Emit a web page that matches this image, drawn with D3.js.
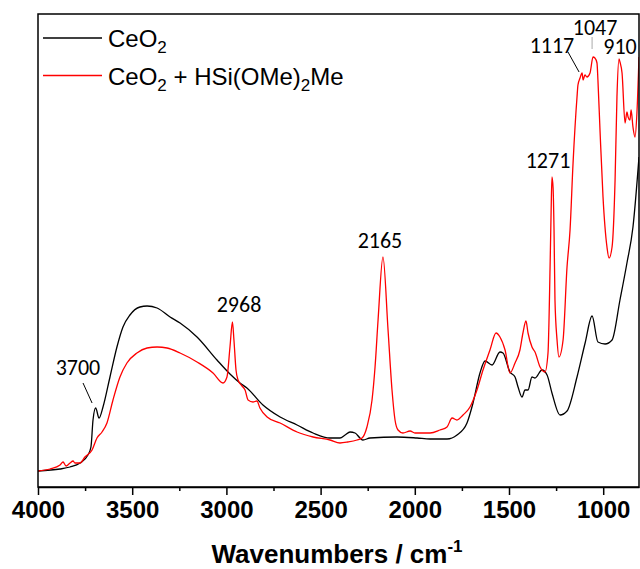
<!DOCTYPE html>
<html>
<head>
<meta charset="utf-8">
<script src="https://d3js.org/d3.v7.min.js"></script>
<style>
  body { margin: 0; background: #fff; }
  svg { display: block; }
</style>
</head>
<body>
<svg id="chart"></svg>
<script>
// FTIR spectra, values (absorbance, a.u.)
const width = 640;
const height = 569;

const ceo2Wn = [4000, 3883, 3830, 3777, 3735, 3719, 3708, 3694, 3676, 3655, 3618, 3581, 3549, 3512,
  3459, 3421, 3368, 3299, 3246, 3156, 3050, 2981, 2928, 2891, 2806, 2715, 2625, 2540, 2450, 2397,
  2370, 2344, 2317, 2291, 2275, 2238, 2094, 1988, 1919, 1829, 1776, 1723, 1691, 1654, 1627, 1590,
  1548, 1532, 1495, 1468, 1452, 1431, 1415, 1399, 1378, 1362, 1325, 1298, 1272, 1229, 1192, 1139,
  1096, 1059, 1028, 990, 953, 911, 874, 842, 810];
const ceo2Abs = [0.16, 0.18, 0.20, 0.24, 0.32, 0.40, 0.67, 0.79, 0.69, 0.80, 1.10, 1.40, 1.60, 1.72,
  1.80, 1.81, 1.79, 1.70, 1.64, 1.50, 1.27, 1.13, 1.04, 0.99, 0.82, 0.70, 0.62, 0.54, 0.49, 0.49,
  0.52, 0.55, 0.54, 0.49, 0.47, 0.49, 0.50, 0.49, 0.48, 0.48, 0.52, 0.64, 0.84, 1.14, 1.26, 1.22,
  1.35, 1.34, 1.15, 1.10, 1.00, 0.90, 0.97, 0.97, 1.10, 1.09, 1.17, 1.12, 0.94, 0.72, 0.76, 1.10,
  1.44, 1.71, 1.45, 1.43, 1.47, 1.87, 2.24, 2.60, 3.30];

const silaneWn = [4000, 3936, 3883, 3867, 3851, 3830, 3814, 3804, 3777, 3751, 3713, 3687, 3660, 3634,
  3602, 3565, 3528, 3475, 3421, 3368, 3315, 3246, 3156, 3071, 3018, 2997, 2981, 2968, 2960, 2949,
  2938, 2917, 2901, 2885, 2859, 2838, 2822, 2784, 2715, 2625, 2540, 2450, 2397, 2355, 2307, 2280,
  2254, 2227, 2211, 2195, 2169, 2142, 2121, 2105, 2089, 2063, 2025, 1999, 1962, 1919, 1866, 1829,
  1802, 1776, 1744, 1707, 1670, 1638, 1601, 1569, 1548, 1521, 1495, 1468, 1442, 1426, 1410, 1399,
  1378, 1362, 1335, 1309, 1293, 1282, 1277, 1272, 1266, 1261, 1256, 1245, 1235, 1213, 1192, 1176,
  1160, 1139, 1134, 1123, 1112, 1107, 1097, 1086, 1070, 1054, 1044, 1033, 1028, 1017, 1001, 980,
  969, 953, 937, 927, 916, 911, 900, 884, 874, 868, 858, 852, 842, 831, 821, 810];
const silaneAbs = [0.16, 0.18, 0.22, 0.25, 0.21, 0.24, 0.26, 0.24, 0.24, 0.30, 0.37, 0.49, 0.55, 0.64,
  0.87, 1.10, 1.24, 1.34, 1.39, 1.40, 1.39, 1.34, 1.25, 1.14, 1.04, 1.10, 1.40, 1.65, 1.47, 1.17,
  1.07, 1.01, 0.97, 0.87, 0.85, 0.86, 0.79, 0.70, 0.64, 0.55, 0.50, 0.47, 0.44, 0.45, 0.47, 0.49,
  0.60, 0.87, 1.20, 1.67, 2.30, 1.57, 0.97, 0.67, 0.57, 0.54, 0.56, 0.54, 0.54, 0.54, 0.57, 0.60,
  0.69, 0.67, 0.72, 0.80, 0.97, 1.17, 1.37, 1.54, 1.50, 1.37, 1.14, 1.24, 1.37, 1.54, 1.66, 1.54,
  1.40, 1.35, 1.20, 1.15, 1.34, 2.20, 2.70, 3.10, 2.99, 2.57, 1.87, 1.47, 1.30, 1.47, 2.20, 2.57,
  3.24, 3.90, 4.02, 4.09, 4.14, 4.07, 4.12, 4.10, 4.14, 4.30, 4.29, 4.24, 4.07, 3.57, 2.90, 2.40,
  2.29, 2.40, 3.07, 3.90, 4.28, 4.25, 4.14, 3.64, 3.75, 3.70, 3.67, 3.77, 3.60, 3.50, 3.74, 4.30];

// legend names, split into [text, subscript] pieces
const seriesNames = [
  [["CeO", "2"]],
  [["CeO", "2"], [" + HSi(OMe)", "2"], ["Me", ""]]
];
const seriesColors = ["#000000", "#ff0000"];

const majorTicks = [4000, 3500, 3000, 2500, 2000, 1500, 1000];
const minorTicks = [3750, 3250, 2750, 2250, 1750, 1250];

// peak labels: text, wavenumber of text centre, absorbance of baseline
const peakLabels = [
  { text: "3700", wn: 3788, at: 1.12 },
  { text: "2968", wn: 2933, at: 1.75 },
  { text: "2165", wn: 2185, at: 2.39 },
  { text: "1271", wn: 1293, at: 3.19 },
  { text: "1117", wn: 1272, at: 4.34 },
  { text: "1047", wn: 1043, at: 4.52 },
  { text: "910", wn: 911, at: 4.33 }
];
// leader lines [wn1, a1, wn2, a2]
const leaders = [
  [3761, 1.04, 3713, 0.84, "#000"],
  [1187, 4.35, 1128, 4.15, "#000"],
  [1059, 4.50, 1059, 4.38, "#aaa"]
];

const margin = { top: 14, right: 1, bottom: 82, left: 38 };
const plotW = width - margin.left - margin.right;
const plotH = height - margin.top - margin.bottom;

const svg = d3.select('#chart')
  .attr('width', width)
  .attr('height', height);

const x = d3.scaleLinear().domain([4000, 810]).range([margin.left, margin.left + plotW]);
const y = d3.scaleLinear().domain([0, 4.73]).range([margin.top + plotH, margin.top]);

svg.append('defs').append('clipPath').attr('id', 'clip')
  .append('rect')
  .attr('x', margin.left).attr('y', margin.top)
  .attr('width', plotW).attr('height', plotH);

const line = d3.line()
  .x(d => x(d[0]))
  .y(d => y(d[1]))
  .curve(d3.curveMonotoneX);

const series = [
  d3.zip(ceo2Wn, ceo2Abs),
  d3.zip(silaneWn, silaneAbs)
];

const plot = svg.append('g').attr('clip-path', 'url(#clip)');
series.forEach((pts, i) => {
  plot.append('path')
    .datum(pts)
    .attr('d', line)
    .attr('fill', 'none')
    .attr('stroke', seriesColors[i])
    .attr('stroke-width', 1.3)
    .attr('stroke-linejoin', 'round');
});

// frame
svg.append('rect')
  .attr('x', margin.left).attr('y', margin.top)
  .attr('width', plotW).attr('height', plotH)
  .attr('fill', 'none')
  .attr('stroke', '#000')
  .attr('stroke-width', 1.5);

// x axis
const xAxis = svg.append('g')
  .attr('transform', `translate(0,${margin.top + plotH})`)
  .call(d3.axisBottom(x).tickValues(majorTicks).tickSize(8).tickSizeOuter(0).tickPadding(6)
    .tickFormat(d3.format('d')));
xAxis.select('.domain').attr('stroke-width', 1.5);
xAxis.selectAll('.tick line').attr('stroke-width', 1.5);
xAxis.selectAll('.tick text')
  .attr('font-family', 'Liberation Sans, Arial, sans-serif')
  .attr('font-weight', 'bold')
  .attr('font-size', 24)
  .attr('fill', '#000');

svg.append('g')
  .attr('transform', `translate(0,${margin.top + plotH})`)
  .call(d3.axisBottom(x).tickValues(minorTicks).tickSize(4).tickFormat(''))
  .call(g => g.select('.domain').remove())
  .selectAll('.tick line').attr('stroke-width', 1.5);

// axis title
const title = svg.append('text')
  .attr('x', 337)
  .attr('y', 563)
  .attr('text-anchor', 'middle')
  .attr('font-family', 'Liberation Sans, Arial, sans-serif')
  .attr('font-weight', 'bold')
  .attr('font-size', 26)
  .attr('fill', '#000');
title.append('tspan').text('Wavenumbers / cm');
title.append('tspan').attr('font-size', 17).attr('dy', -11).text('-1');

// legend
seriesNames.forEach((pieces, i) => {
  const ly = 38 + i * 37.5;
  svg.append('line')
    .attr('x1', 43).attr('x2', 102)
    .attr('y1', ly).attr('y2', ly)
    .attr('stroke', seriesColors[i])
    .attr('stroke-width', 1.3);
  const t = svg.append('text')
    .attr('x', 108)
    .attr('y', ly + 9)
    .attr('font-family', 'Liberation Sans, Arial, sans-serif')
    .attr('font-size', 24)
    .attr('fill', '#000');
  let lowered = false;
  pieces.forEach(([main, sub]) => {
    t.append('tspan').attr('dy', lowered ? -6 : 0).text(main);
    lowered = false;
    if (sub) {
      t.append('tspan').attr('font-size', 17).attr('dy', 6).text(sub);
      lowered = true;
    }
  });
});

// peak labels
svg.append('g').selectAll('text')
  .data(peakLabels)
  .join('text')
  .attr('x', d => x(d.wn))
  .attr('y', d => y(d.at))
  .attr('text-anchor', 'middle')
  .attr('font-family', 'Carlito, Open Sans, sans-serif')
  .attr('font-size', 22)
  .attr('fill', '#000')
  .text(d => d.text);

svg.append('g').selectAll('line')
  .data(leaders)
  .join('line')
  .attr('x1', d => x(d[0])).attr('y1', d => y(d[1]))
  .attr('x2', d => x(d[2])).attr('y2', d => y(d[3]))
  .attr('stroke', d => d[4])
  .attr('stroke-width', 1);
</script>
</body>
</html>
